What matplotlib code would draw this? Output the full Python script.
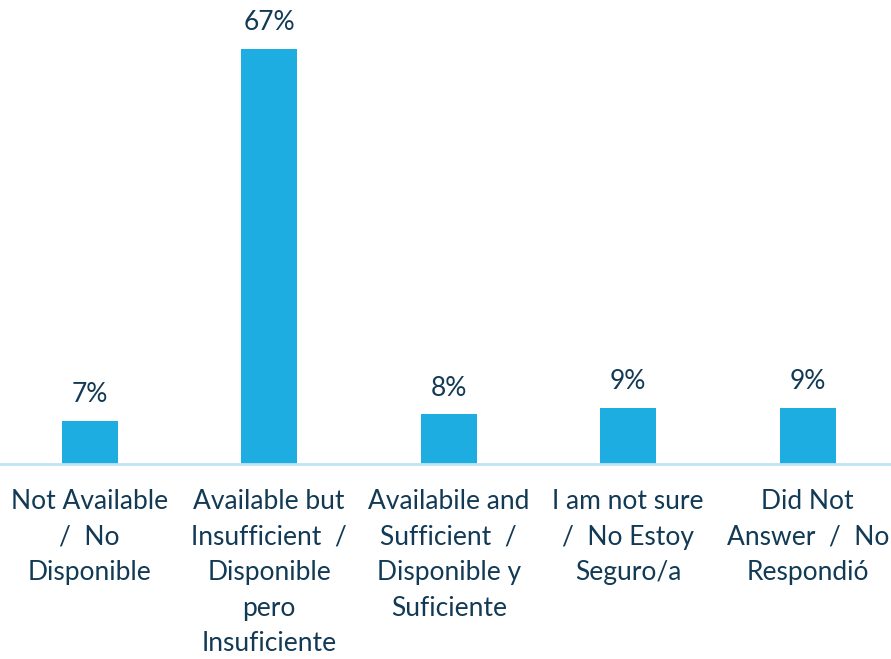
import matplotlib.pyplot as plt

categories = [
    "Not Available\n/  No\nDisponible",
    "Available but\nInsufficient  /\nDisponible\npero\nInsuficiente",
    "Availabile and\nSufficient  /\nDisponible y\nSuficiente",
    "I am not sure\n/  No Estoy\nSeguro/a",
    "Did Not\nAnswer  /  No\nRespondió",
]
values = [7, 67, 8, 9, 9]

bar_color = '#1EADE1'
text_color = '#123A55'

plt.rcParams['font.family'] = ['Lato', 'DejaVu Sans']

fig = plt.figure(figsize=(8.91, 6.59), dpi=100)
ax = fig.add_axes([0, 1 - 464 / 659, 1, 464 / 659])

x = range(len(categories))
bars = ax.bar(x, values, width=0.31, color=bar_color)
for b, v in zip(bars, values):
    ax.annotate(f"{v}%", (b.get_x() + b.get_width() / 2, v),
                xytext=(0, 10), textcoords='offset points',
                ha='center', va='bottom', fontsize=19, color=text_color)

ax.set_xlim(-0.5, 4.464)
ax.set_ylim(0, 74.9)
ax.set_xticks(list(x))
ax.set_xticklabels(categories, fontsize=19, color=text_color, linespacing=1.53)
ax.tick_params(axis='x', length=0, pad=18)
ax.set_yticks([])
for s in ['top', 'right', 'left']:
    ax.spines[s].set_visible(False)
ax.spines['bottom'].set_color('#BFE4F6')
ax.spines['bottom'].set_linewidth(2)

fig.savefig('out.png', dpi=100)
